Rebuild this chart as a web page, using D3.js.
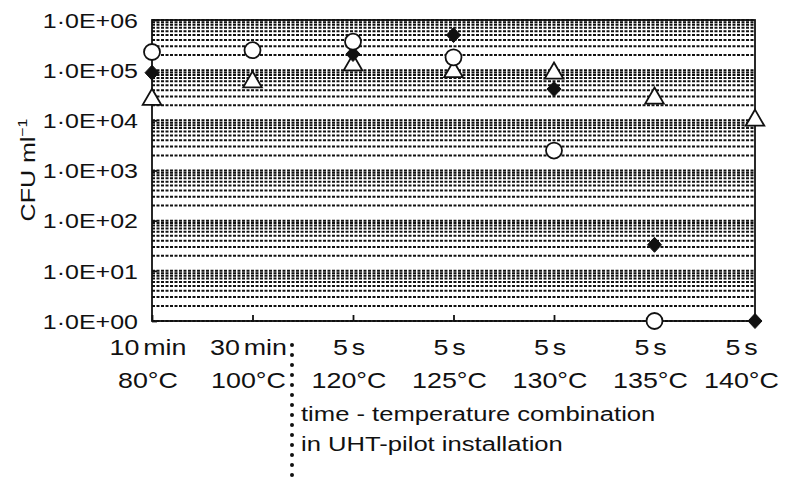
<!DOCTYPE html>
<html>
<head>
<meta charset="utf-8">
<script src="https://cdn.jsdelivr.net/npm/d3@7"></script>
<style>
  body { margin: 0; background: #fff; }
  text { font-family: "Liberation Sans", Arial, sans-serif; fill: #111; }
</style>
</head>
<body>
<svg id="container" width="785" height="485"></svg>
<script>
'use strict';

// categories: time and temperature combinations
const timeLabels = ['10 min', '30 min', '5 s', '5 s', '5 s', '5 s', '5 s'];
const tempLabels = ['80°C', '100°C', '120°C', '125°C', '130°C', '135°C', '140°C'];

// series values (CFU per ml), null = no point
const circleValues = [2.3e5, 2.5e5, 3.7e5, 1.8e5, 2.5e3, 1, null];
const diamondValues = [8.9e4, null, 2.1e5, 5e5, 4.2e4, 33, 1];
const triangleValues = [2.6e4, 5.8e4, 1.27e5, 9.3e4, 8.7e4, 2.75e4, 1.0e4];

// y tick labels
const yTicks = [1, 1e1, 1e2, 1e3, 1e4, 1e5, 1e6];
const yTickLabels = ['1·0E+00', '1·0E+01', '1·0E+02', '1·0E+03', '1·0E+04', '1·0E+05', '1·0E+06'];

const svg = d3.select('#container');
const width = +svg.attr('width');

// plot area
const plotLeft = 152, plotRight = 755, plotTop = 20, plotBottom = 321;
// the original lettering is wider than Liberation Sans
const STRETCH = 1.22;

const x = d3.scalePoint()
  .domain(d3.range(timeLabels.length))
  .range([plotLeft, plotRight]);

const y = d3.scaleLog()
  .domain([1, 1e6])
  .range([plotBottom, plotTop]);

// dashed grid lines, 1..9 in every decade
const gridValues = [];
for (let n = 0; n < 6; n++) {
  for (let m = 1; m < 10; m++) gridValues.push(m * Math.pow(10, n));
}
gridValues.push(1e6);

svg.append('g')
  .selectAll('line')
  .data(gridValues)
  .enter()
  .append('line')
  .attr('x1', plotLeft)
  .attr('x2', plotRight)
  .attr('y1', d => y(d))
  .attr('y2', d => y(d))
  .attr('stroke', '#111')
  .attr('stroke-width', 2)
  .attr('stroke-dasharray', '3,1.5');

// frame
svg.append('rect')
  .attr('x', plotLeft)
  .attr('y', plotTop)
  .attr('width', plotRight - plotLeft)
  .attr('height', plotBottom - plotTop)
  .attr('fill', 'none')
  .attr('stroke', '#111')
  .attr('stroke-width', 1.8);

// y axis with ticks pointing inward
const yAxis = d3.axisLeft(y)
  .tickValues(yTicks)
  .tickSize(-5)
  .tickPadding(14)
  .tickFormat((d, i) => yTickLabels[i]);

const gy = svg.append('g')
  .attr('transform', `translate(${plotLeft},0)`)
  .call(yAxis);
gy.select('.domain').remove();
gy.selectAll('.tick line').attr('stroke', '#111').attr('stroke-width', 1.8);
gy.selectAll('.tick text')
  .attr('x', 0)
  .attr('dy', '0.35em')
  .attr('transform', `translate(-14,0) scale(${STRETCH},1)`)
  .style('font-size', '20.5px')
  .style('font-family', '"Liberation Sans", Arial, sans-serif')
  .attr('fill', '#111');

// x axis ticks pointing up
const xAxis = d3.axisBottom(x)
  .tickSize(-6)
  .tickFormat('');

const gx = svg.append('g')
  .attr('transform', `translate(0,${plotBottom})`)
  .call(xAxis);
gx.select('.domain').remove();
gx.selectAll('.tick line').attr('stroke', '#111').attr('stroke-width', 1.8);

// x category labels, two lines
const labels = svg.append('g')
  .selectAll('text')
  .data(timeLabels)
  .enter()
  .append('text')
  .attr('text-anchor', 'middle')
  .style('font-size', '22px')
  .style('word-spacing', '-3px');

labels.append('tspan')
  .attr('x', 0)
  .attr('y', 0)
  .text(d => d);
labels.append('tspan')
  .attr('x', 0)
  .attr('y', 33)
  .text((d, i) => tempLabels[i]);

// keep the labels inside the page
labels.each(function (d, i) {
  const w = this.getBBox().width * STRETCH;
  const cx = Math.min(x(i) - 4, width - 6 - w / 2);
  d3.select(this).attr('transform', `translate(${cx},355) scale(${STRETCH},1)`);
});

// dotted separator between lab and UHT-pilot runs
svg.append('line')
  .attr('x1', 292)
  .attr('x2', 292)
  .attr('y1', 345)
  .attr('y2', 485)
  .attr('stroke', '#111')
  .attr('stroke-width', 4)
  .attr('stroke-linecap', 'round')
  .attr('stroke-dasharray', '0,10');

svg.append('text')
  .attr('transform', `translate(301,421) scale(${STRETCH},1)`)
  .style('font-size', '21px')
  .text('time - temperature combination');

svg.append('text')
  .attr('transform', `translate(301,451) scale(${STRETCH},1)`)
  .style('font-size', '21px')
  .text('in UHT-pilot installation');

// y axis title
const yTitle = svg.append('text')
  .attr('transform', `translate(35,170) rotate(-90) scale(${STRETCH},1)`)
  .attr('text-anchor', 'middle')
  .style('font-size', '20.5px');
yTitle.append('tspan').text('CFU ml');
yTitle.append('tspan')
  .attr('dy', -8)
  .style('font-size', '13px')
  .text('−1');

// markers
const points = (values) => values
  .map((v, i) => ({i, v}))
  .filter(d => d.v !== null);

svg.append('g')
  .selectAll('path')
  .data(points(triangleValues))
  .enter()
  .append('path')
  .attr('d', d3.symbol().type(d3.symbolTriangle).size(150))
  .attr('transform', d => `translate(${x(d.i)},${y(d.v)})`)
  .attr('fill', '#fff')
  .attr('stroke', '#111')
  .attr('stroke-width', 1.8);

svg.append('g')
  .selectAll('path')
  .data(points(diamondValues))
  .enter()
  .append('path')
  .attr('d', 'M0,-7.5L7,0L0,7.5L-7,0Z')
  .attr('transform', d => `translate(${x(d.i)},${y(d.v)})`)
  .attr('fill', '#111')
  .attr('stroke', '#111')
  .attr('stroke-width', 1);

svg.append('g')
  .selectAll('circle')
  .data(points(circleValues))
  .enter()
  .append('circle')
  .attr('cx', d => x(d.i))
  .attr('cy', d => y(d.v))
  .attr('r', 8)
  .attr('fill', '#fff')
  .attr('stroke', '#111')
  .attr('stroke-width', 1.8);
</script>
</body>
</html>
